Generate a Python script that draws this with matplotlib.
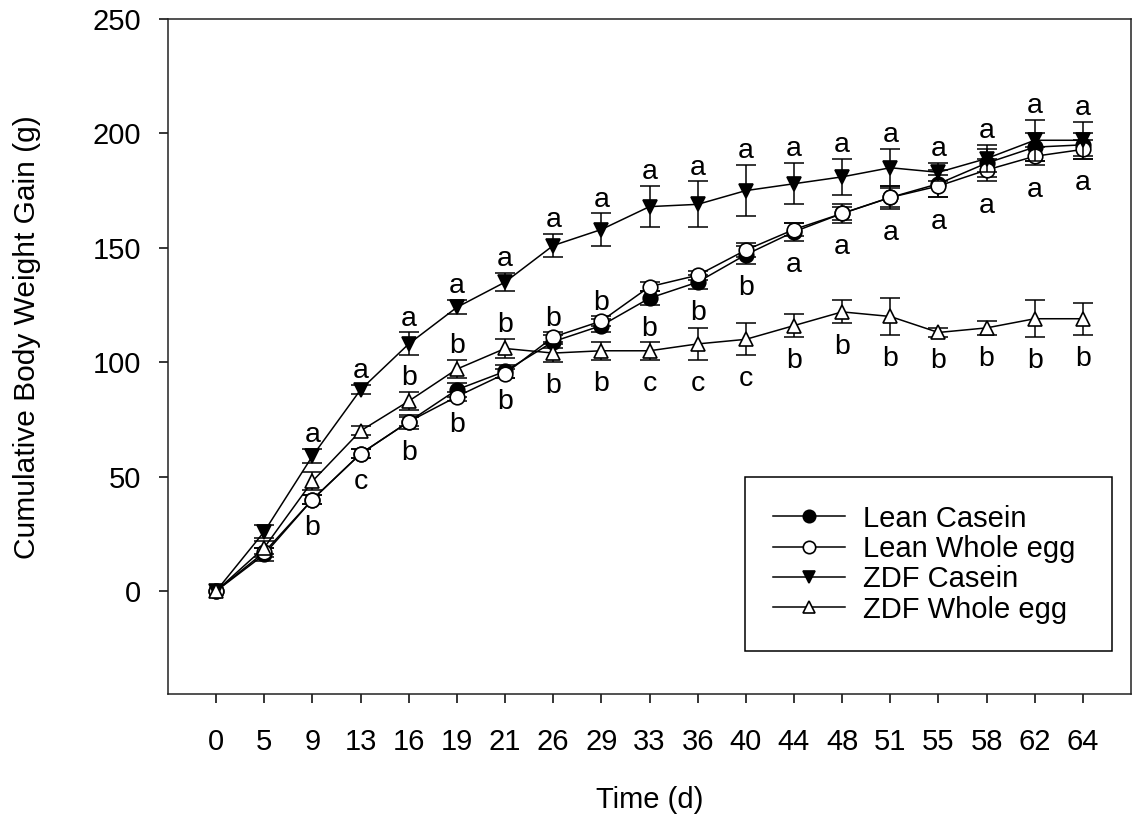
import matplotlib
matplotlib.use("Agg")
import matplotlib.pyplot as plt
import numpy as np

plt.rcParams['font.family'] = ['Liberation Sans', 'DejaVu Sans']

# ---------------- data ----------------
times = ['0', '5', '9', '13', '16', '19', '21', '26', '29', '33', '36', '40',
         '44', '48', '51', '55', '58', '62', '64']

lean_casein = [0, 16, 40, 60, 74, 88, 96, 109, 116, 128, 135, 147, 157, 165, 172, 178, 187, 194, 195]
lean_casein_se = [0, 3, 2, 2, 3, 3, 3, 3, 3, 3, 3, 4, 4, 4, 5, 6, 6, 6, 5]

lean_whole_egg = [0, 17, 40, 60, 74, 85, 95, 111, 118, 133, 138, 149, 158, 165, 172, 177, 184, 190, 193]
lean_whole_egg_se = [0, 2, 2, 2, 2, 2, 2, 2, 2, 2, 2, 3, 3, 3, 4, 5, 5, 4, 4]

zdf_casein = [0, 26, 59, 88, 108, 124, 135, 151, 158, 168, 169, 175, 178, 181, 185, 183, 189, 197, 197]
zdf_casein_se = [0, 3, 3, 2, 5, 3, 4, 5, 7, 9, 10, 11, 9, 8, 8, 4, 6, 9, 8]

zdf_whole_egg = [0, 19, 48, 70, 83, 97, 106, 104, 105, 105, 108, 110, 116, 122, 120, 113, 115, 119, 119]
zdf_whole_egg_se = [0, 3, 4, 2, 4, 4, 4, 4, 4, 4, 7, 7, 5, 5, 8, 2, 3, 8, 7]

series_labels = ['Lean Casein', 'Lean Whole egg', 'ZDF Casein', 'ZDF Whole egg']

# significance letters
letters_zc = ['', '', 'a', 'a', 'a', 'a', 'a', 'a', 'a', 'a', 'a', 'a', 'a', 'a', 'a', 'a', 'a', 'a', 'a']
letters_lean = ['', '', 'b', 'c', 'b', 'b', 'b', 'b', 'b', 'b', 'b', 'b', 'a', 'a', 'a', 'a', 'a', 'a', 'a']
lean_side = ['', '', 'below', 'below', 'below', 'below', 'below', 'above', 'above', 'below', 'below',
             'below', 'below', 'below', 'below', 'below', 'below', 'below', 'below']
letters_zwe = ['', '', '', '', 'b', 'b', 'b', 'b', 'b', 'c', 'c', 'c', 'b', 'b', 'b', 'b', 'b', 'b', 'b']
zwe_side = ['', '', '', '', 'above', 'above', 'above', 'below', 'below', 'below', 'below', 'below',
            'below', 'below', 'below', 'below', 'below', 'below', 'below']

# ---------------- figure ----------------
W, H = 1133, 821
fig = plt.figure(figsize=(W / 100, H / 100), dpi=100)
ax = fig.add_axes([168 / W, 127 / H, 963 / W, 675 / H])

x = np.arange(len(times))
LW = 1.1
specs = [
    (lean_casein, lean_casein_se, 'o', 'black'),
    (lean_whole_egg, lean_whole_egg_se, 'o', 'white'),
    (zdf_casein, zdf_casein_se, 'v', 'black'),
    (zdf_whole_egg, zdf_whole_egg_se, '^', 'white'),
]
handles = []
for (vals, se, mk, fc), lab in zip(specs, series_labels):
    ax.errorbar(x, vals, yerr=se, fmt='none', ecolor='black', elinewidth=LW,
                capsize=7, capthick=LW, errorevery=(1, 1))
    h, = ax.plot(x, vals, '-', color='black', lw=LW, marker=mk, ms=10.5,
                 mfc=fc, mec='black', mew=1.2, label=lab)
    handles.append(h)

def anchor(group_vals, group_se, i, side):
    if side == 'above':
        return max(v[i] + e[i] for v, e in zip(group_vals, group_se))
    return min(v[i] - e[i] for v, e in zip(group_vals, group_se))

def put(letter, i, y, side):
    if not letter:
        return
    if side == 'above':
        ax.annotate(letter, xy=(i, y), xytext=(0, 5), textcoords='offset points',
                    ha='center', va='baseline', fontsize=20.5)
    else:
        ax.annotate(letter, xy=(i, y), xytext=(0, -8), textcoords='offset points',
                    ha='center', va='top', fontsize=20.5)

for i in range(len(times)):
    put(letters_zc[i], i, anchor([zdf_casein], [zdf_casein_se], i, 'above'), 'above')
    if letters_lean[i]:
        put(letters_lean[i], i,
            anchor([lean_casein, lean_whole_egg], [lean_casein_se, lean_whole_egg_se], i, lean_side[i]),
            lean_side[i])
    if letters_zwe[i]:
        put(letters_zwe[i], i, anchor([zdf_whole_egg], [zdf_whole_egg_se], i, zwe_side[i]), zwe_side[i])

ax.set_xlim(-1, len(times))
ax.set_ylim(-45, 250)
ax.set_xticks(x)
ax.set_xticklabels(times)
ax.set_yticks([0, 50, 100, 150, 200, 250])

for s in ax.spines.values():
    s.set_linewidth(1.1)
    s.set_color('#222222')
ax.tick_params(axis='both', direction='out', length=6.5, width=1.1, labelsize=21, colors='black')
ax.tick_params(axis='x', pad=18)
ax.tick_params(axis='y', pad=13)

fig.text(27 / W, 1 - 337 / H, 'Cumulative Body Weight Gain (g)', rotation=90,
         ha='center', va='center', fontsize=21.5)
fig.text(650 / W, 1 - 800 / H, 'Time (d)', ha='center', va='center', fontsize=21)

leg = ax.legend(handles=handles, loc='upper left',
                bbox_to_anchor=(0.599, 0.047, 0.381, 0.2745), mode='expand',
                borderaxespad=0, fontsize=21, labelspacing=0.08, handlelength=2.5,
                handletextpad=0.6, borderpad=0.95, markerscale=0.85,
                fancybox=False, framealpha=1, edgecolor='black')
leg.get_frame().set_linewidth(1.1)

fig.savefig('out.png', dpi=100)
